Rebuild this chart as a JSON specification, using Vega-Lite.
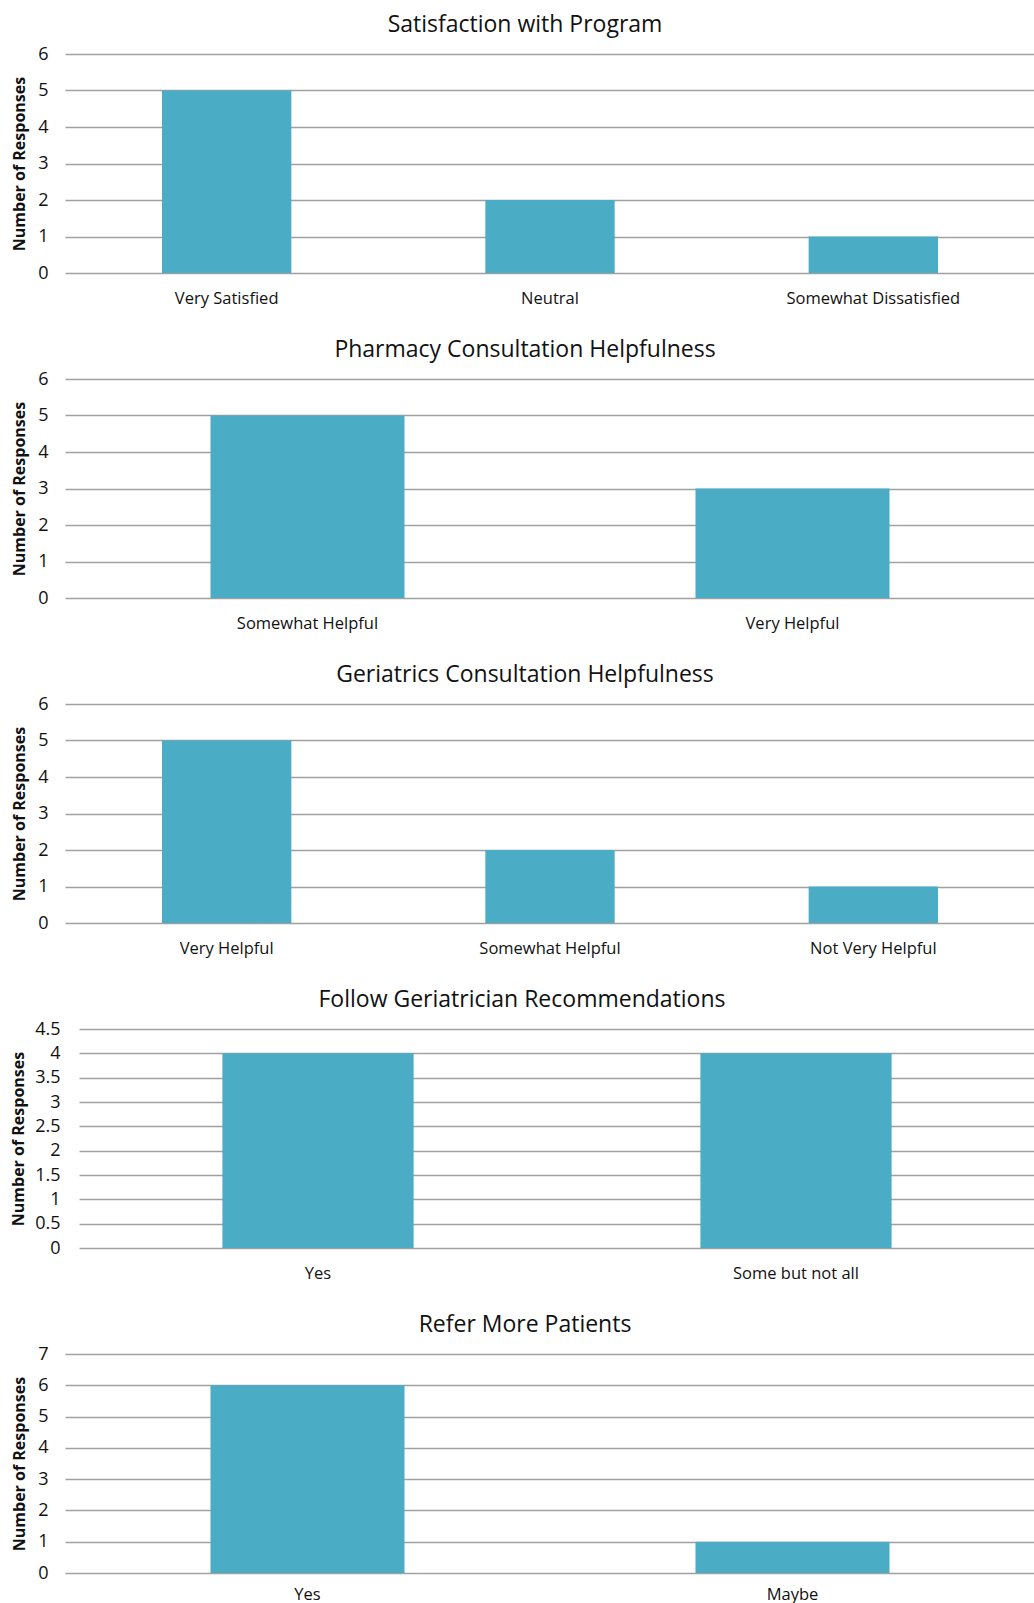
{
  "$schema": "https://vega.github.io/schema/vega-lite/v6.json",
  "padding": {"left": 10, "top": 14, "right": 0, "bottom": 0},
  "background": "white",
  "datasets": {
    "responses": [
      {"chart": "Satisfaction with Program", "answer": "Very Satisfied", "count": 5},
      {"chart": "Satisfaction with Program", "answer": "Neutral", "count": 2},
      {"chart": "Satisfaction with Program", "answer": "Somewhat Dissatisfied", "count": 1},
      {"chart": "Pharmacy Consultation Helpfulness", "answer": "Somewhat Helpful", "count": 5},
      {"chart": "Pharmacy Consultation Helpfulness", "answer": "Very Helpful", "count": 3},
      {"chart": "Geriatrics Consultation Helpfulness", "answer": "Very Helpful", "count": 5},
      {"chart": "Geriatrics Consultation Helpfulness", "answer": "Somewhat Helpful", "count": 2},
      {"chart": "Geriatrics Consultation Helpfulness", "answer": "Not Very Helpful", "count": 1},
      {"chart": "Follow Geriatrician Recommendations", "answer": "Yes", "count": 4},
      {"chart": "Follow Geriatrician Recommendations", "answer": "Some but not all", "count": 4},
      {"chart": "Refer More Patients", "answer": "Yes", "count": 6},
      {"chart": "Refer More Patients", "answer": "Maybe", "count": 1}
    ]
  },
  "data": {"name": "responses"},
  "spacing": 32,
  "config": {
    "font": "Open Sans",
    "view": {"stroke": null},
    "title": {"fontSize": 23, "fontWeight": "normal", "color": "#111111", "offset": 8, "anchor": "middle", "dx": -25},
    "axis": {"domain": false, "ticks": false, "labelColor": "#111111", "titleColor": "#111111", "grid": true, "gridColor": "#a0a0a0", "gridWidth": 1.3},
    "axisX": {"grid": false, "labelAngle": 0, "labelPadding": 17, "labelFontSize": 16.5, "title": null},
    "axisY": {"labelPadding": 17, "labelFontSize": 18, "titleFontSize": 16, "titleFontWeight": "bold", "titlePadding": 8, "minExtent": 30},
    "bar": {"color": "#4BACC6"}
  },
  "vconcat": [
    {
      "title": "Satisfaction with Program",
      "width": 970, "height": 219,
      "transform": [{"filter": "datum.chart === 'Satisfaction with Program'"}],
      "mark": "bar",
      "encoding": {
        "x": {"field": "answer", "type": "nominal", "sort": null, "scale": {"paddingInner": 0.6, "paddingOuter": 0.3}, "axis": {"title": null}},
        "y": {"field": "count", "type": "quantitative", "scale": {"domain": [0, 6]}, "axis": {"values": [0,1,2,3,4,5,6], "title": "Number of Responses"}}
      }
    },
    {
      "title": "Pharmacy Consultation Helpfulness",
      "width": 970, "height": 219,
      "transform": [{"filter": "datum.chart === 'Pharmacy Consultation Helpfulness'"}],
      "mark": "bar",
      "encoding": {
        "x": {"field": "answer", "type": "nominal", "sort": null, "scale": {"paddingInner": 0.6, "paddingOuter": 0.3}, "axis": {"title": null}},
        "y": {"field": "count", "type": "quantitative", "scale": {"domain": [0, 6]}, "axis": {"values": [0,1,2,3,4,5,6], "title": "Number of Responses"}}
      }
    },
    {
      "title": "Geriatrics Consultation Helpfulness",
      "width": 970, "height": 219,
      "transform": [{"filter": "datum.chart === 'Geriatrics Consultation Helpfulness'"}],
      "mark": "bar",
      "encoding": {
        "x": {"field": "answer", "type": "nominal", "sort": null, "scale": {"paddingInner": 0.6, "paddingOuter": 0.3}, "axis": {"title": null}},
        "y": {"field": "count", "type": "quantitative", "scale": {"domain": [0, 6]}, "axis": {"values": [0,1,2,3,4,5,6], "title": "Number of Responses"}}
      }
    },
    {
      "title": {"text": "Follow Geriatrician Recommendations", "dx": -28},
      "width": 970, "height": 219,
      "transform": [{"filter": "datum.chart === 'Follow Geriatrician Recommendations'"}],
      "mark": "bar",
      "encoding": {
        "x": {"field": "answer", "type": "nominal", "sort": null, "scale": {"paddingInner": 0.6, "paddingOuter": 0.3, "range": [14, 970]}, "axis": {"title": null}},
        "y": {"field": "count", "type": "quantitative", "scale": {"domain": [0, 4.5]}, "axis": {"values": [0,0.5,1,1.5,2,2.5,3,3.5,4,4.5], "format": "~g", "title": "Number of Responses", "labelPadding": 5}}
      }
    },
    {
      "title": "Refer More Patients",
      "width": 970, "height": 219,
      "transform": [{"filter": "datum.chart === 'Refer More Patients'"}],
      "mark": "bar",
      "encoding": {
        "x": {"field": "answer", "type": "nominal", "sort": null, "scale": {"paddingInner": 0.6, "paddingOuter": 0.3}, "axis": {"title": null, "labelPadding": 13}},
        "y": {"field": "count", "type": "quantitative", "scale": {"domain": [0, 7]}, "axis": {"values": [0,1,2,3,4,5,6,7], "title": "Number of Responses"}}
      }
    }
  ]
}
